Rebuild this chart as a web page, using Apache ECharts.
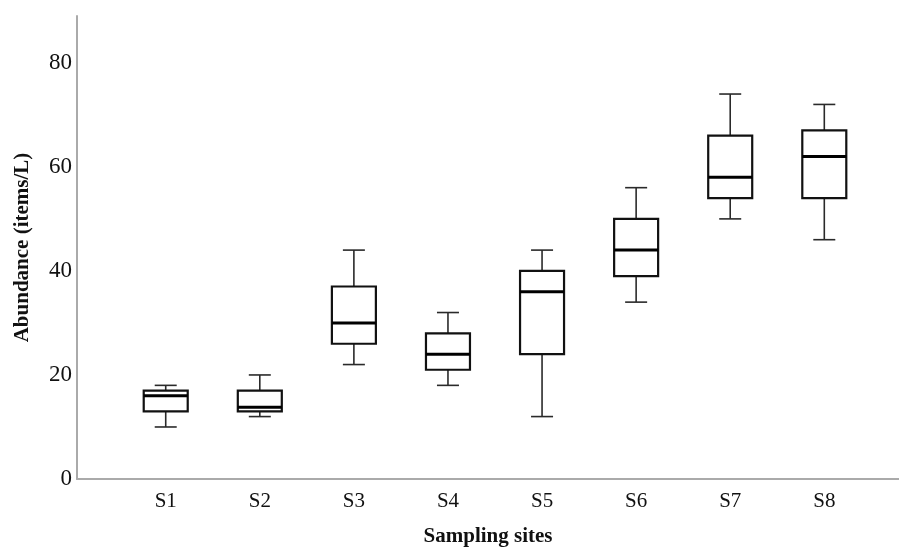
<!DOCTYPE html>
<html>
<head>
<meta charset="utf-8">
<script src="https://cdn.jsdelivr.net/npm/echarts@6/dist/echarts.min.js"></script>
<style>
  html, body { margin: 0; padding: 0; background: #fff; }
  #chart { width: 899px; height: 548px; }
</style>
</head>
<body>
<div id="chart"></div>
<script>
// sampling sites and box statistics (items/L)
const sites = ['S1', 'S2', 'S3', 'S4', 'S5', 'S6', 'S7', 'S8']
const minVals = [10, 12, 22, 18, 12, 34, 50, 46]
const q1Vals = [13, 13, 26, 21, 24, 39, 54, 54]
const medianVals = [16, 13.8, 30, 24, 36, 44, 58, 62]
const q3Vals = [17, 17, 37, 28, 40, 50, 66, 67]
const maxVals = [18, 20, 44, 32, 44, 56, 74, 72]
const yTicks = [0, 20, 40, 60, 80]

const FONT = '"Liberation Serif", "DejaVu Serif", serif'
const BOX_WIDTH = 44
const CAP_WIDTH = 22

// x position i+1 for each site, so labels can sit on 1..8
const rows = sites.map((s, i) => [i + 1, minVals[i], q1Vals[i], medianVals[i], q3Vals[i], maxVals[i]])
const xPositions = sites.map((s, i) => i + 1)

function renderBox(params, api) {
  const x = api.value(0)
  const lo = api.coord([x, api.value(1)])
  const q1 = api.coord([x, api.value(2)])
  const md = api.coord([x, api.value(3)])
  const q3 = api.coord([x, api.value(4)])
  const hi = api.coord([x, api.value(5)])
  const cx = lo[0]
  const hb = BOX_WIDTH / 2
  const hc = CAP_WIDTH / 2
  const thin = { stroke: '#2a2a2a', lineWidth: 1.6 }
  return {
    type: 'group',
    children: [
      { type: 'line', shape: { x1: cx, y1: q3[1], x2: cx, y2: hi[1] }, style: thin },
      { type: 'line', shape: { x1: cx, y1: q1[1], x2: cx, y2: lo[1] }, style: thin },
      { type: 'line', shape: { x1: cx - hc, y1: hi[1], x2: cx + hc, y2: hi[1] }, style: thin },
      { type: 'line', shape: { x1: cx - hc, y1: lo[1], x2: cx + hc, y2: lo[1] }, style: thin },
      {
        type: 'rect',
        shape: { x: cx - hb, y: q3[1], width: BOX_WIDTH, height: q1[1] - q3[1] },
        style: { fill: '#fff', stroke: '#111', lineWidth: 2.2 }
      },
      { type: 'line', shape: { x1: cx - hb, y1: md[1], x2: cx + hb, y2: md[1] }, style: { stroke: '#000', lineWidth: 3 } }
    ]
  }
}

const chart = echarts.init(document.getElementById('chart'))
chart.setOption({
  animation: false,
  backgroundColor: '#fff',
  grid: { left: 77, right: 0, top: 16, bottom: 69, outerBoundsMode: 'none', containLabel: false },
  xAxis: {
    type: 'value',
    min: 0.057,
    max: 8.794,
    name: 'Sampling sites',
    nameLocation: 'middle',
    nameGap: 47,
    nameTextStyle: { fontFamily: FONT, fontWeight: 'bold', fontSize: 21, color: '#111' },
    axisLine: { show: true, lineStyle: { color: '#aaa', width: 2 } },
    axisTick: { show: false },
    splitLine: { show: false },
    axisLabel: {
      customValues: xPositions,
      formatter: v => sites[Math.round(v) - 1] || '',
      fontFamily: FONT,
      fontSize: 21,
      color: '#111',
      margin: 12
    }
  },
  yAxis: {
    type: 'value',
    min: 0,
    max: 89,
    name: 'Abundance (items/L)',
    nameLocation: 'middle',
    nameGap: 44,
    nameTextStyle: { fontFamily: FONT, fontWeight: 'bold', fontSize: 21, color: '#111' },
    axisLine: { show: true, lineStyle: { color: '#aaa', width: 2 } },
    axisTick: { show: false },
    splitLine: { show: false },
    axisLabel: {
      customValues: yTicks,
      fontFamily: FONT,
      fontSize: 23,
      color: '#111',
      margin: 5
    }
  },
  series: [
    {
      type: 'custom',
      renderItem: renderBox,
      encode: { x: 0, y: [1, 2, 3, 4, 5] },
      data: rows
    }
  ]
})
</script>
</body>
</html>
